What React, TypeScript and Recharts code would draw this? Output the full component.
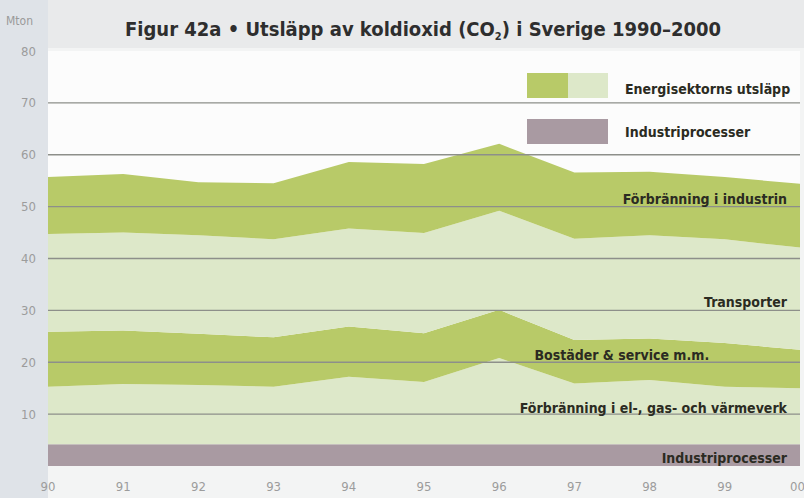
import React from 'react';
import { AreaChart, Area, XAxis, YAxis, CartesianGrid, ReferenceLine, ReferenceDot } from 'recharts';

// Utsläpp av CO2 i Sverige, Mton, staplade från botten och uppåt
const years = ['90', '91', '92', '93', '94', '95', '96', '97', '98', '99', '00'];
const industriprocesser = [4.2, 4.2, 4.2, 4.2, 4.2, 4.2, 4.2, 4.2, 4.2, 4.2, 4.2];
const elGasVarme = [11.1, 11.6, 11.4, 11.1, 13.0, 12.0, 16.6, 11.7, 12.4, 11.1, 10.8];
const bostaderService = [10.6, 10.3, 9.9, 9.5, 9.7, 9.4, 9.3, 8.4, 8.0, 8.4, 7.4];
const transporter = [18.8, 18.9, 19.0, 18.9, 18.9, 19.3, 19.1, 19.5, 19.9, 20.0, 19.7];
const forbranningIndustrin = [11.0, 11.3, 10.2, 10.8, 12.8, 13.3, 12.9, 12.8, 12.2, 12.0, 12.3];
const yTicks = [10, 20, 30, 40, 50, 60, 70, 80];
const gridValues = [10, 20, 30, 40, 50, 60, 70];

const data = years.map((year, i) => ({
  x: i,
  year,
  industriprocesser: industriprocesser[i],
  elGasVarme: elGasVarme[i],
  bostaderService: bostaderService[i],
  transporter: transporter[i],
  forbranningIndustrin: forbranningIndustrin[i],
}));

const DARK = '#b8ca68';
const LIGHT = '#dde8c9';
const MAUVE = '#a99aa2';
const NARROW = '"Liberation Sans Narrow", "DejaVu Sans Condensed", "Liberation Sans", sans-serif';

const bandLabel = (value: string, pos: 'left' | 'center' = 'left') => ({
  value,
  position: pos,
  offset: 13,
  fill: '#2b2b22',
  fontSize: 14,
  fontWeight: 700,
  fontFamily: NARROW,
});

const LegendBox = () => (
  <div style={{ position: 'absolute', left: 527, top: 72, fontFamily: NARROW, fontWeight: 700, fontSize: 14, color: '#2b2b22' }}>
    <div style={{ display: 'flex', alignItems: 'center', height: 26 }}>
      <span style={{ width: 41, height: 25, background: DARK }} />
      <span style={{ width: 40, height: 25, background: LIGHT }} />
      <span style={{ marginLeft: 17, marginTop: 8 }}>Energisektorns utsläpp</span>
    </div>
    <div style={{ display: 'flex', alignItems: 'center', height: 26, marginTop: 20 }}>
      <span style={{ width: 81, height: 25, background: MAUVE }} />
      <span style={{ marginLeft: 17, marginTop: 2 }}>Industriprocesser</span>
    </div>
  </div>
);

export default function App() {
  return (
    <div style={{ position: 'absolute', left: 0, top: 0, width: 804, height: 498, background: '#f3f4f4', overflow: 'hidden' }}>
      <div style={{ position: 'absolute', left: 0, top: 0, width: 48, height: 498, background: '#dfe3e8' }} />
      <div style={{ position: 'absolute', left: 48, top: 0, width: 756, height: 48, background: '#e9eaeb' }} />
      <div style={{ position: 'absolute', left: 6, top: 14, fontFamily: NARROW, fontSize: 12, color: '#9a9a9a' }}>Mton</div>
      <div style={{ position: 'absolute', left: 125, top: 17, fontFamily: NARROW, fontSize: 20, fontWeight: 700, color: '#2e2e2e', whiteSpace: 'nowrap' }}>
        Figur 42a • Utsläpp av koldioxid (CO<span style={{ fontSize: 11, verticalAlign: -4 }}>2</span>) i Sverige 1990–2000
      </div>
      <div style={{ position: 'absolute', left: 0, top: 0 }}>
        <AreaChart width={804} height={498} data={data} margin={{ top: 51, right: 4, bottom: 0, left: 0 }}>
          <CartesianGrid horizontal={false} vertical={false} fill="#fcfcfc" />
          <XAxis
            dataKey="x"
            type="number"
            domain={[0, 10]}
            ticks={years.map((_, i) => i)}
            tickFormatter={(i: number) => years[i]}
            axisLine={false}
            tickLine={false}
            height={32}
            tickMargin={10}
            tick={{ fill: '#9c9c9c', fontSize: 13, fontFamily: NARROW }}
          />
          <YAxis
            domain={[0, 80]}
            ticks={yTicks}
            width={48}
            axisLine={false}
            tickLine={false}
            tickMargin={6}
            tick={{ fill: '#9c9c9c', fontSize: 13, fontFamily: NARROW }}
          />
          <Area type="linear" dataKey="industriprocesser" stackId="1" stroke="none" fill={MAUVE} fillOpacity={1} isAnimationActive={false} />
          <Area type="linear" dataKey="elGasVarme" stackId="1" stroke="none" fill={LIGHT} fillOpacity={1} isAnimationActive={false} />
          <Area type="linear" dataKey="bostaderService" stackId="1" stroke="none" fill={DARK} fillOpacity={1} isAnimationActive={false} />
          <Area type="linear" dataKey="transporter" stackId="1" stroke="none" fill={LIGHT} fillOpacity={1} isAnimationActive={false} />
          <Area type="linear" dataKey="forbranningIndustrin" stackId="1" stroke="none" fill={DARK} fillOpacity={1} isAnimationActive={false} />
          {gridValues.map((v) => (
            <ReferenceLine key={v} y={v} stroke="#8d8f8a" strokeWidth={1.3} />
          ))}
          <ReferenceDot x={10} y={51.5} r={0} fill="none" stroke="none" label={bandLabel('Förbränning i industrin')} />
          <ReferenceDot x={10} y={31.7} r={0} fill="none" stroke="none" label={bandLabel('Transporter')} />
          <ReferenceDot x={7.63} y={21.4} r={0} fill="none" stroke="none" label={bandLabel('Bostäder & service m.m.', 'center')} />
          <ReferenceDot x={10} y={11.1} r={0} fill="none" stroke="none" label={bandLabel('Förbränning i el-, gas- och värmeverk')} />
          <ReferenceDot x={10} y={1.6} r={0} fill="none" stroke="none" label={bandLabel('Industriprocesser')} />
        </AreaChart>
      </div>
      <LegendBox />
    </div>
  );
}
